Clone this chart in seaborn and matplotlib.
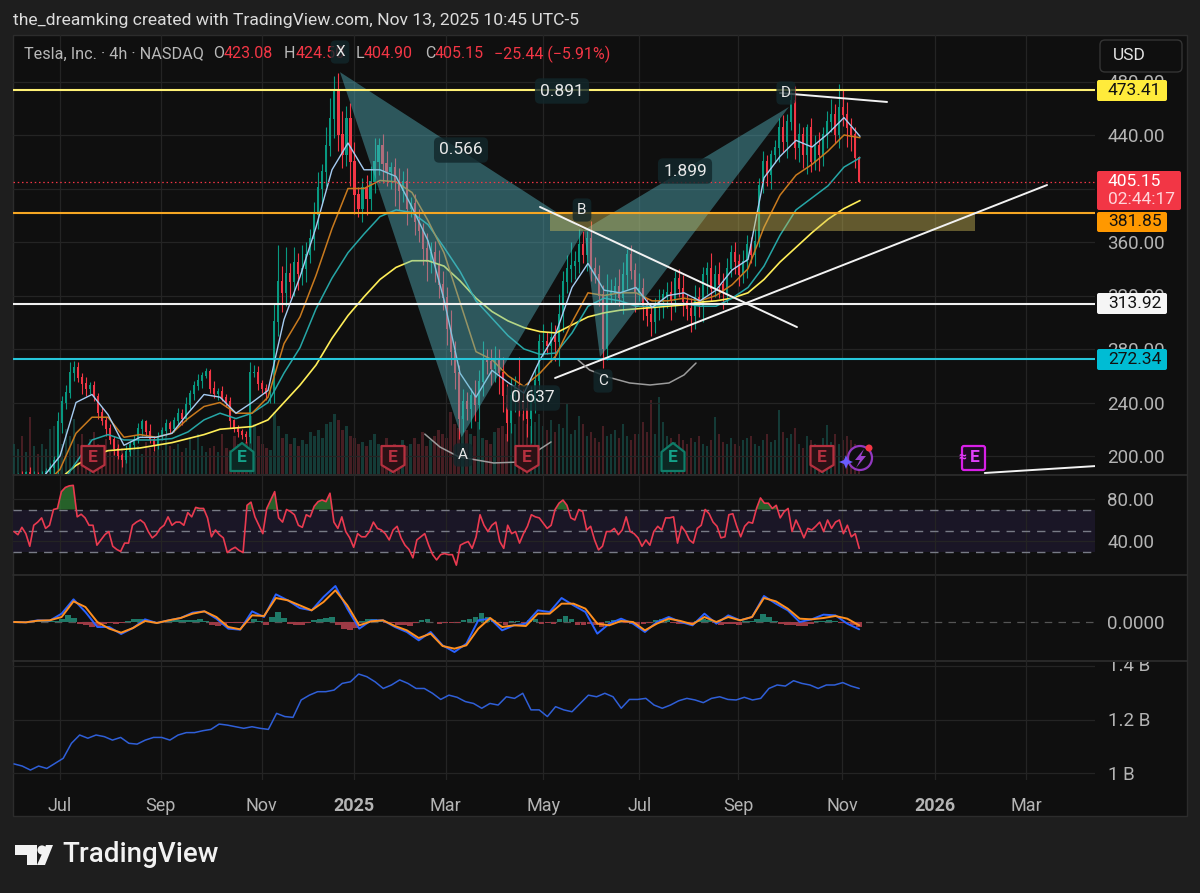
import matplotlib
matplotlib.use("Agg")
import matplotlib.pyplot as plt
import matplotlib.patches as mpatches
import matplotlib.transforms as mtransforms
import numpy as np
import seaborn as sns

# x axis is days from 1 Jul 2024, candles run left to right at even spacing
first_day = -28.75
last_day = 499.5
month_days = [0, 63, 126, 184, 241, 302, 362, 424, 489, 547, 604]
month_labels = ["Jul", "Sep", "Nov", "2025", "Mar", "May", "Jul", "Sep", "Nov", "2026", "Mar"]

candle_close = [
    183, 185, 182, 187, 184, 186, 181, 185, 188, 191,
    196, 225, 240, 247, 262, 266, 258, 254, 250, 252,
    244, 232, 226, 220, 212, 205, 200, 197, 203, 208,
    212, 220, 225, 218, 212, 208, 214, 219, 224, 220,
    226, 231, 228, 238, 246, 252, 256, 260, 263, 250,
    246, 248, 243, 240, 226, 220, 218, 216, 214, 262,
    262, 254, 250, 246, 248, 300, 330, 322, 336, 330,
    344, 336, 340, 350, 362, 380, 400, 412, 432, 452,
    472, 440, 425, 452, 420, 395, 385, 400, 392, 405,
    420, 432, 418, 412, 415, 405, 398, 405, 385, 388,
    375, 368, 355, 345, 352, 342, 328, 318, 295, 278,
    262, 228, 240, 235, 245, 238, 255, 272, 270, 265,
    272, 262, 245, 225, 245, 252, 240, 235, 228, 240,
    256, 285, 285, 282, 288, 285, 305, 330, 340, 342,
    345, 358, 350, 362, 340, 335, 320, 280, 320, 322,
    326, 318, 335, 350, 338, 322, 325, 312, 305, 300,
    312, 315, 320, 322, 316, 332, 325, 315, 310, 305,
    318, 312, 335, 340, 325, 335, 328, 322, 340, 352,
    345, 335, 345, 358, 350, 360, 402, 420, 410, 425,
    430, 445, 435, 450, 465, 430, 440, 425, 445, 420,
    432, 425, 440, 450, 455, 440, 460, 455, 445, 440,
    423, 405.15,
]
wick_up = [
    3, 2, 4, 2, 5, 3, 2, 4, 3, 4,
    4, 8, 5, 6, 8, 5, 4, 4, 5, 3,
    4, 3, 5, 3, 4, 3, 4, 2, 5, 3,
    4, 5, 3, 2, 6, 3, 4, 3, 4, 2,
    3, 5, 4, 6, 3, 4, 5, 3, 3, 2,
    6, 3, 4, 3, 4, 2, 3, 2, 3, 8,
    6, 5, 3, 4, 2, 14, 28, 12, 20, 8,
    12, 8, 18, 10, 8, 10, 12, 6, 14, 16,
    12, 14, 18, 10, 12, 15, 6, 8, 10, 12,
    18, 6, 9, 10, 5, 8, 10, 8, 10, 6,
    8, 10, 6, 12, 8, 9, 12, 10, 8, 14,
    8, 6, 10, 8, 6, 12, 9, 14, 8, 10,
    10, 8, 12, 9, 14, 8, 22, 10, 8, 12,
    10, 6, 14, 8, 12, 10, 16, 8, 10, 18,
    8, 12, 10, 6, 14, 9, 8, 8, 16, 10,
    8, 14, 10, 5, 8, 6, 12, 8, 6, 8,
    6, 10, 5, 8, 9, 6, 8, 10, 6, 8,
    10, 8, 6, 5, 12, 8, 10, 9, 8, 6,
    8, 6, 9, 7, 6, 10, 6, 8, 5, 4,
    6, 8, 10, 6, 8, 12, 9, 6, 3, 8,
    8, 10, 6, 8, 12, 8, 18, 14, 10, 8,
    6, 1.5,
]
wick_down = [
    2, 3, 2, 4, 3, 2, 4, 2, 3, 2,
    6, 10, 8, 5, 4, 6, 3, 8, 5, 4,
    3, 4, 3, 5, 3, 4, 2, 5, 2, 3,
    3, 2, 5, 3, 2, 4, 3, 2, 4, 3,
    2, 3, 5, 2, 3, 4, 3, 5, 2, 3,
    3, 4, 2, 3, 5, 2, 4, 3, 4, 4,
    3, 5, 3, 4, 6, 8, 10, 14, 10, 12,
    10, 12, 8, 10, 6, 8, 10, 12, 10, 8,
    14, 12, 10, 8, 18, 14, 6, 10, 12, 8,
    8, 10, 14, 10, 12, 18, 14, 8, 12, 6,
    10, 8, 12, 14, 8, 12, 10, 9, 12, 10,
    12, 15, 10, 8, 14, 12, 18, 10, 9, 12,
    10, 16, 12, 14, 8, 12, 10, 8, 14, 18,
    8, 14, 10, 6, 12, 14, 18, 12, 8, 10,
    10, 8, 6, 12, 9, 6, 8, 14, 8, 6,
    8, 6, 12, 10, 6, 14, 6, 10, 8, 10,
    8, 10, 12, 9, 14, 8, 6, 10, 8, 12,
    10, 8, 12, 14, 9, 6, 10, 12, 8, 6,
    9, 8, 6, 12, 6, 8, 4, 5, 8, 10,
    6, 10, 8, 12, 6, 8, 10, 10, 14, 8,
    6, 12, 8, 10, 8, 6, 10, 8, 14, 12,
    8, 0.25,
]
volume = [
    30, 25, 38, 22, 57, 28, 20, 30, 25, 45,
    48, 52, 30, 45, 38, 55, 30, 40, 28, 35,
    42, 30, 25, 35, 22, 28, 34, 26, 22, 30,
    24, 28, 20, 32, 26, 22, 30, 24, 38, 28,
    25, 30, 22, 26, 36, 24, 40, 28, 22, 26,
    28, 22, 40, 26, 24, 38, 30, 25, 32, 58,
    50, 38, 30, 26, 24, 62, 48, 36, 40, 30,
    36, 28, 34, 30, 42, 38, 44, 36, 50, 52,
    60, 54, 44, 48, 38, 36, 30, 32, 28, 34,
    40, 30, 28, 36, 26, 30, 28, 34, 28, 30,
    36, 30, 42, 28, 34, 38, 44, 40, 36, 62,
    50, 46, 58, 44, 40, 38, 52, 36, 34, 30,
    42, 46, 48, 40, 58, 50, 87, 60, 50, 48,
    52, 60, 48, 44, 54, 42, 50, 46, 70, 40,
    44, 58, 50, 38, 42, 36, 32, 48, 38, 40,
    44, 36, 50, 38, 34, 40, 40, 52, 42, 74,
    40, 77, 52, 38, 36, 32, 40, 34, 30, 36,
    32, 38, 30, 28, 34, 57, 40, 32, 30, 36,
    30, 28, 34, 36, 38, 30, 28, 34, 40, 32,
    34, 64, 42, 36, 40, 46, 30, 26, 38, 34,
    30, 28, 36, 49, 32, 40, 30, 34, 38, 34,
    30, 24,
]

# moving averages read every 10 days
ma_days = list(range(-20, 510, 10))
ma_fast = [
    180, 185, 200, 240, 246, 231, 208, 214, 214, 217, 232, 246, 244, 232, 240, 249, 302, 334,
    371, 414, 434, 414, 414, 409, 386, 361, 317, 262, 244, 264, 255, 247, 272, 292, 326, 344,
    324, 322, 326, 311, 320, 322, 316, 324, 339, 347, 408, 424, 436, 431, 441, 453, 439,
]
ma_mid = [
    175, 178, 190, 217, 229, 229, 214, 216, 214, 217, 228, 237, 240, 232, 232, 244, 284, 304,
    335, 370, 400, 400, 406, 405, 397, 376, 352, 315, 278, 272, 260, 252, 262, 275, 300, 322,
    320, 322, 322, 316, 316, 318, 316, 320, 328, 340, 371, 395, 410, 418, 428, 440, 438,
]
ma_slow = [
    170, 172, 178, 195, 212, 216, 212, 212, 212, 213, 218, 227, 232, 228, 232, 240, 262, 281,
    310, 333, 352, 366, 379, 384, 382, 373, 356, 338, 316, 303, 290, 280, 276, 277, 292, 312,
    318, 316, 312, 312, 313, 314, 312, 312, 318, 326, 342, 365, 384, 393, 402, 416, 423,
]
ma_long = [
    165, 172, 183, 193, 200, 204, 205, 206, 208, 210, 213, 216, 220, 221, 222, 227, 240, 253,
    268, 288, 305, 319, 332, 341, 346, 346, 342, 331, 318, 308, 301, 296, 293, 292, 298, 304,
    307, 309, 310, 311, 312, 313, 315, 316, 318, 322, 332, 345, 356, 367, 377, 385, 391,
]

rsi = [
    49, 46, 53, 47, 35, 55, 58, 62, 52, 55, 70, 71, 87, 91, 92.5, 93, 63, 65.5, 62, 55,
    55, 36, 41, 46, 49, 35, 32, 30, 38, 38, 55, 58, 60, 57, 49, 43, 46, 52, 55, 63,
    55, 58, 58, 55, 67, 63, 72, 71, 71, 62, 44, 50.5, 46, 43, 29, 32, 34, 31, 29, 74,
    77, 63, 55, 47, 71, 79, 87, 62, 58, 70, 68, 65, 55, 53, 65, 63, 73, 77.5, 79, 77.5,
    85.5, 58, 52, 63, 49, 43, 34, 47, 44, 44, 49, 58, 52, 50.5, 47, 41, 50.5, 54, 43, 36,
    32, 24, 41, 44, 47, 36, 27, 22, 27, 28, 27, 27, 17, 36, 38, 39.5, 33, 44, 65, 55,
    49, 55, 58, 39.5, 33, 55, 47, 49, 38, 47, 54, 65, 63, 62, 57, 52, 55, 70, 76, 79,
    74, 62, 60, 70, 68, 50.5, 54, 41,
    31.5, 35, 49, 49, 52, 46, 50.5, 63, 49, 47, 43, 35, 41, 36, 49, 54, 50.5, 62, 62, 63,
    38, 54, 49, 41, 38, 52, 55, 70, 66, 58, 54, 43, 44, 65, 66, 54, 44, 54, 58, 57,
    71, 81, 76, 76, 71, 74, 62, 68, 71, 49, 60, 52, 43, 52, 50.5, 54, 58, 49, 60, 52,
    58, 60, 47, 55, 44, 47, 33,
]

macd_line = [
    0, -1, 5, 4, 25, 68, 30, -15, -15, -36, -18, 8, -3, 5, 12, 28, 32, 10, -20, -23,
    32, 15, 83, 65, 42, 35, 75, 108, 40, -20, 5, 5, -15, -30, -55, -30, -70, -90, -65, 5,
    10, -25, -10, -5, 35, 30, 72, 50, 30, -35, -5, 10, -5, -30, 0, 15, 0, -10, 25, -5,
    20, 5, 15, 78, 55, 35, 0, 8, 22, 20, -5, -22,
]
macd_signal = [
    0, -1, 4, 5, 15, 62, 45, 0, -20, -32, -18, 3, -3, 5, 12, 25, 32, 15, -15, -22,
    20, 18, 72, 65, 50, 35, 60, 95, 50, -10, 2, 5, -12, -25, -48, -35, -72, -80, -70, -20,
    12, -15, -10, -12, 25, 25, 55, 55, 40, -5, -10, 3, 0, -25, -5, 10, 3, -7, 15, 0,
    15, 5, 15, 72, 62, 40, 10, 8, 12, 18, 10, -10,
]
macd_hist = [
    0, 0, 1, 1, 2, 2, 3, 3, 10, 20, 12, -6, -10, -14, -12, -5, -3, -5, -3, 2,
    8, 10, 6, 2, -1, 1, 4, 6, 7, 5, 6, 8, 4, -8, -12, -8, -3, -4, -3, -2,
    10, 4, -8, 15, 30, 12, -6, -8, -10, -4, 5, 10, 13, 15, -10, -22, -25, -18, 2, 8,
    10, 3, -4, -3, -8, -10, -12, -3, 6, 10, -1, -5, -4, -3, -2, 6, 8, 14, 28, 15,
    6, -3, -8, 3, 2, -4, 6, 10, -6, -4, -6, 10, 18, 8, -8, -10, -6, -10,
    -15, 3, 6, 5, -3, -5, -8, -6, -4, 6, 8, 6, -4, -7, -5, -5, 3, 8, 6, -3,
    -8, -5, -5, -8, 2, 3, 10, 25, 14, 4, -5, -8, -10, -12, -12, -6, 4, 4, 5, 3,
    -2, -4, -8, -14,
]

obv = [
    1.034, 1.026, 1.011, 1.026, 1.017, 1.036, 1.055, 1.111, 1.142, 1.130, 1.142, 1.136,
    1.123, 1.133, 1.111, 1.108, 1.123, 1.133, 1.133, 1.123, 1.142, 1.151, 1.151, 1.158,
    1.163, 1.183, 1.179, 1.173, 1.167, 1.173, 1.167, 1.163, 1.223, 1.211, 1.208, 1.273,
    1.291, 1.304, 1.304, 1.310, 1.335, 1.341, 1.370, 1.360, 1.341, 1.316, 1.329, 1.348,
    1.335, 1.316, 1.316, 1.298, 1.275, 1.291, 1.283, 1.267, 1.260, 1.242, 1.260, 1.254,
    1.285, 1.279, 1.298, 1.236, 1.236, 1.211, 1.248, 1.236, 1.229, 1.260, 1.291, 1.285,
    1.298, 1.285, 1.242, 1.275, 1.275, 1.279, 1.254, 1.242, 1.254, 1.270, 1.279, 1.273,
    1.263, 1.279, 1.285, 1.275, 1.273, 1.283, 1.273, 1.279, 1.316, 1.329, 1.325, 1.345,
    1.335, 1.329, 1.316, 1.329, 1.329, 1.338, 1.325, 1.316,
]

# XABCD pattern points
pattern_names = ["X", "A", "B", "C", "D"]
pattern_days = [175, 251, 327.5, 337.5, 455.6]
pattern_prices = [487, 214, 369, 274, 461]

# levels and drawings
level_prices = [473.41, 381.85, 313.92, 272.34]
level_colors = ["#fff176", "#f5a623", "#f0f0f0", "#26c6da"]
last_price = 405.15
zone_days = [306, 572]
zone_prices = [368.3, 381.85]
trend_lines = [
    ([300, 460.6], [386.2, 296.4]),
    ([309.4, 616.9], [258.3, 402.6]),
    ([450, 516.9], [471.4, 464.7]),
    ([578, 647.5], [187.3, 192.5]),
]
arc_a_days = [228, 237.5, 249.4, 271, 287.5, 306.9]
arc_a_prices = [216.4, 206.7, 199.3, 194.8, 195.5, 210.5]
arc_c_days = [323.8, 331, 342.5, 356, 368.8, 380.6, 390, 397.5]
arc_c_prices = [271.8, 264.3, 259, 254.6, 253.1, 254.6, 260.6, 269.5]

W, H = 1200, 893
LEFT, RIGHT = 13, 1095
GREEN, RED = "#089981", "#f23645"
GRID = "#242424"
AXTXT = "#b4b4b4"

sns.set_theme(style="dark", rc={"axes.grid": False, "patch.force_edgecolor": False})
plt.rcParams["font.family"] = ["Roboto", "DejaVu Sans"]

fig = plt.figure(figsize=(12, 8.93), dpi=100, facecolor="#1e1e1e")
px = mtransforms.Affine2D().scale(1 / W, -1 / H).translate(0, 1) + fig.transFigure


def pane(top, bottom):
    ax = fig.add_axes([LEFT / W, 1 - bottom / H, (RIGHT - LEFT) / W, (bottom - top) / H])
    ax.set_facecolor("none")
    ax.set_xlim((LEFT - 60) / 1.6, (RIGHT - 60) / 1.6)
    ax.set_xticks(month_days)
    ax.set_xticklabels([])
    ax.yaxis.tick_right()
    ax.tick_params(length=0, labelcolor=AXTXT, labelsize=13.5, pad=9)
    ax.grid(True, color=GRID, lw=0.9)
    ax.set_axisbelow(True)
    for s in ax.spines.values():
        s.set_visible(False)
    return ax


def put(x, y, s, **kw):
    kw.setdefault("va", "center")
    kw.setdefault("color", "#d8d8d8")
    return fig.text(x / W, 1 - y / H, s, **kw)


frame = mpatches.Rectangle((13, 35), 1174, 781, transform=px, fc="#0f0f0f", ec="#2c2c2c", lw=1, zorder=-5)
fig.add_artist(frame)
for yy in [474.5, 575, 661]:
    fig.add_artist(plt.Line2D([13, 1187], [yy, yy], transform=px, color="#2e2e2e", lw=1.2, zorder=-4))

# volume sits on its own axes under the price pane
ax_vol = pane(35, 474)
ax_vol.grid(False)
ax_vol.set_ylim(0, 439)
ax_vol.set_yticks([])

ax = pane(35, 474)
ax.set_zorder(2)
ax.set_ylim(200 - 18 / 1.3375, 200 + 421 / 1.3375)
ax.set_yticks([200, 240, 280, 320, 360, 400, 440, 480])
ax.set_yticklabels([f"{v}.00" for v in [200, 240, 280, 320, 360, 400, 440, 480]])

candle_days = np.linspace(first_day, last_day, len(candle_close))
c = np.array(candle_close, dtype=float)
o = np.r_[c[0] - 2, c[:-1]]
hi = np.maximum(o, c) + np.array(wick_up)
lo = np.minimum(o, c) - np.array(wick_down)
up = c >= o
colors = np.where(up, GREEN, RED)

ax_vol.bar(candle_days, volume, width=1.5, color=np.where(up, "#164a45", "#5a242b"), alpha=0.75, lw=0, zorder=1)
ax.vlines(candle_days, lo, hi, colors=colors, lw=0.8, zorder=2)
ax.bar(candle_days, np.abs(c - o) + 0.8, bottom=np.minimum(o, c), width=1.3, color=colors, lw=0, zorder=2)

for vals, col, lw in [(ma_long, "#ffee58", 1.2), (ma_slow, "#26a6a6", 1.1), (ma_mid, "#c97a1e", 1.1), (ma_fast, "#a6ccf2", 1.0)]:
    sns.lineplot(x=ma_days, y=vals, ax=ax, color=col, lw=lw, legend=False, errorbar=None, zorder=3)
ax.set_xlabel("")
ax.set_ylabel("")

ax.fill([pattern_days[0], pattern_days[1], pattern_days[2]],
        [pattern_prices[0], pattern_prices[1], pattern_prices[2]],
        color="#55b8c4", alpha=0.43, lw=0, zorder=4)
ax.fill([pattern_days[2], pattern_days[3], pattern_days[4]],
        [pattern_prices[2], pattern_prices[3], pattern_prices[4]],
        color="#55b8c4", alpha=0.43, lw=0, zorder=4)

ax.fill_between(zone_days, zone_prices[0], zone_prices[1], color="#d6c25a", alpha=0.42, lw=0, zorder=4.5)
for p, col in zip(level_prices, level_colors):
    ax.axhline(p, color=col, lw=1.5, zorder=5)
ax.axhline(last_price, color=RED, lw=0.9, ls=(0, (1.2, 2.2)), zorder=5)
for xs, ys in trend_lines:
    sns.lineplot(x=xs, y=ys, ax=ax, color="#f2f2f2", lw=1.4, legend=False, errorbar=None, zorder=5)
sns.lineplot(x=arc_a_days, y=arc_a_prices, ax=ax, color="#9c9c9c", lw=1.1, sort=False, legend=False, errorbar=None, zorder=5)
sns.lineplot(x=arc_c_days, y=arc_c_prices, ax=ax, color="#9c9c9c", lw=1.1, sort=False, legend=False, errorbar=None, zorder=5)
ax.set_xlabel("")
ax.set_ylabel("")

# pattern tags
tag = dict(boxstyle="round,pad=0.3", fc="#12272b", ec="none", alpha=0.8)
for name, x, y in zip(pattern_names, [340, 463, 582, 603, 786], [52, 455, 210, 381, 93]):
    put(x, y, name, ha="center", fontsize=11, color="#e8e8e8", bbox=tag, zorder=6)
for s, x, y in [("0.566", 461, 150), ("0.891", 562, 91), ("1.899", 685, 171), ("0.637", 533, 398)]:
    put(x, y, s, ha="center", fontsize=12.5, color="#e8e8e8", bbox=tag, zorder=6)

# RSI
ax_rsi = pane(475, 575)
ax_rsi.set_ylim(40 - 34 / 1.05, 80 + 24 / 1.05)
ax_rsi.set_yticks([40, 80])
ax_rsi.set_yticklabels(["40.00", "80.00"])
ax_rsi.axhspan(30, 70, color="#1a1626", lw=0, zorder=0.5)
for lev in [30, 50, 70]:
    ax_rsi.axhline(lev, color="#787b86", lw=1, ls=(0, (6, 5)), zorder=1)
rsi_days = np.linspace(first_day, last_day, len(rsi))
ax_rsi.fill_between(rsi_days, 70, rsi, where=np.array(rsi) > 70, color="#2e7d32", alpha=0.75, lw=0, interpolate=True, zorder=1.5)
sns.lineplot(x=rsi_days, y=rsi, ax=ax_rsi, color="#ea3a50", lw=1.2, legend=False, errorbar=None, zorder=3)
ax_rsi.set_xlabel("")
ax_rsi.set_ylabel("")

# MACD, units are arbitrary, only the zero line is labelled
ax_macd = pane(575, 661)
ax_macd.set_ylim(-117, 141)
ax_macd.set_yticks([0])
ax_macd.set_yticklabels(["0.0000"])
ax_macd.grid(False, axis="y")
ax_macd.axhline(0, color="#555555", lw=0.9, ls=(0, (6, 5)), zorder=1)
hist_days = np.linspace(first_day, last_day, len(macd_hist))
hist = np.array(macd_hist)
ax_macd.bar(hist_days, hist, width=3.6, color=np.where(hist >= 0, "#1f7a68", "#9c3a45"), lw=0, zorder=2)
macd_days = np.linspace(first_day, last_day, len(macd_line))
sns.lineplot(x=macd_days, y=macd_line, ax=ax_macd, color="#2962ff", lw=1.4, legend=False, errorbar=None, zorder=3)
sns.lineplot(x=macd_days, y=macd_signal, ax=ax_macd, color="#ff8f1f", lw=1.4, legend=False, errorbar=None, zorder=3)
ax_macd.set_xlabel("")
ax_macd.set_ylabel("")

# cumulative volume pane
ax_obv = pane(661, 780)
ax_obv.set_ylim(1 - 7 / 267.5, 1.4 + 5 / 267.5)
ax_obv.set_yticks([1.0, 1.2, 1.4])
ax_obv.set_yticklabels(["1 B", "1.2 B", ""])
obv_days = np.linspace(first_day, last_day, len(obv))
sns.lineplot(x=obv_days, y=obv, ax=ax_obv, color="#2f5fd8", lw=1.1, legend=False, errorbar=None, zorder=3)
ax_obv.set_xlabel("")
ax_obv.set_ylabel("")
ax_obv.set_xticklabels(month_labels)
ax_obv.tick_params(axis="x", pad=12, labelsize=13)
for lab, txt in zip(ax_obv.get_xticklabels(), month_labels):
    if txt.startswith("20"):
        lab.set_fontweight("bold")
top_label = put(1108, 666, "1.4 B", color=AXTXT, fontsize=13.5)
top_label.set_clip_on(True)
top_label.set_clip_box(mtransforms.Bbox([[1095, 0], [1187, H - 662]]))

# header and legend
put(13, 20, "the_dreamking created with TradingView.com, Nov 13, 2025 10:45 UTC-5", fontsize=12.6, color="#dcdcdc")
put(24, 54, "Tesla, Inc. · 4h · NASDAQ", fontsize=11.7, color="#b8b8b8")
for x, s, col in [(213, "O", "#b8b8b8"), (224, "423.08", RED), (284, "H", "#b8b8b8"), (296, "424.50", RED),
                  (356, "L", "#b8b8b8"), (364, "404.90", RED), (425, "C", "#b8b8b8"), (435, "405.15", RED),
                  (494, "−25.44 (−5.91%)", RED)]:
    put(x, 54, s, fontsize=11.5, color=col)

fig.add_artist(mpatches.FancyBboxPatch((1100, 40), 82, 32, boxstyle="round,pad=0,rounding_size=5",
                                       transform=px, fc="#0f0f0f", ec="#343434", lw=1))
put(1113, 56, "USD", fontsize=12.5, color="#e4e4e4")

# price badges on the right axis, drawn over the tick labels
for y0, y1, fc, s, tc in [(80, 101, "#ffeb3b", "473.41", "#111111"), (212, 232, "#ff9800", "381.85", "#111111"),
                          (293, 314, "#f5f5f5", "313.92", "#111111"), (349, 370, "#00bcd4", "272.34", "#111111")]:
    fig.add_artist(mpatches.FancyBboxPatch((1097, y0), 70, y1 - y0, boxstyle="round,pad=0,rounding_size=2",
                                           transform=px, fc=fc, ec="none", zorder=6))
    put(1108, (y0 + y1) / 2, s, fontsize=12.5, color=tc, zorder=7)
fig.add_artist(mpatches.FancyBboxPatch((1097, 171), 84, 39, boxstyle="round,pad=0,rounding_size=2",
                                       transform=px, fc=RED, ec="none", zorder=5.5))
put(1108, 181, "405.15", fontsize=12.5, color="#ffffff", zorder=7)
put(1108, 199, "02:44:17", fontsize=12.5, color="#ffd5da", zorder=7)


# earnings markers
def earnings(cx, kind):
    t, b, l, r = 446, 472, cx - 11.5, cx + 11.5
    if kind == "red":
        pts = [(l, t), (r, t), (r, b - 7), (cx, b), (l, b - 7)]
        fc, ec = "#2b1115", "#b5303f"
    else:
        pts = [(cx, t - 3), (r, t + 6), (r, b - 1), (l, b - 1), (l, t + 6)]
        fc, ec = "#0c2723", "#0f7d69"
    fig.add_artist(mpatches.Polygon(pts, closed=True, transform=px, fc=fc, ec=ec, lw=1.6, zorder=6, joinstyle="round"))
    put(cx, 458, "E", ha="center", fontsize=12.5, fontweight="bold", color=ec if kind == "red" else "#14a088", zorder=7)


for cx, kind in [(93, "red"), (242, "green"), (393, "red"), (527, "red"), (673, "green"), (822, "red")]:
    earnings(cx, kind)

# expected earnings and the lightning marker
fig.add_artist(mpatches.FancyBboxPatch((962, 446), 23, 24, boxstyle="round,pad=0,rounding_size=2",
                                       transform=px, fc="#1c0c22", ec="#d81fe8", lw=1.6, zorder=6))
put(975, 458, "E", ha="center", fontsize=12.5, fontweight="bold", color="#e040fb", zorder=7)
put(962, 458, "≈", ha="center", fontsize=10, fontweight="bold", color="#e040fb", zorder=7)
fig.add_artist(mpatches.Circle((860, 458), 12, transform=px, fc="#0f0f0f", ec="#9238c0", lw=1.6, zorder=6))
fig.add_artist(mpatches.Polygon([(864, 449), (855, 460), (860, 460), (856, 468), (866, 456), (861, 456)],
                                transform=px, fc="#9a42cc", ec="none", zorder=7))
fig.add_artist(mpatches.Polygon([(846, 455), (848, 460), (853, 462), (848, 464), (846, 469), (844, 464), (839, 462), (844, 460)],
                                transform=px, fc="#6a5cff", ec="none", zorder=7))
fig.add_artist(mpatches.Circle((869, 448), 3.5, transform=px, fc=RED, ec="none", zorder=7))

# footer logo
fig.add_artist(mpatches.Polygon([(15, 845), (37, 845), (37, 865), (27, 865), (27, 855), (15, 855)],
                                transform=px, fc="#f2f2f2", ec="none"))
fig.add_artist(mpatches.Circle((42, 850), 4.6, transform=px, fc="#f2f2f2", ec="none"))
fig.add_artist(mpatches.Polygon([(46, 845), (53, 845), (45, 865), (37, 865)], transform=px, fc="#f2f2f2", ec="none"))
put(62, 855, "TradingView", fontsize=20, fontweight="medium", color="#f2f2f2")

fig.savefig("out.png", dpi=100, facecolor=fig.get_facecolor())
